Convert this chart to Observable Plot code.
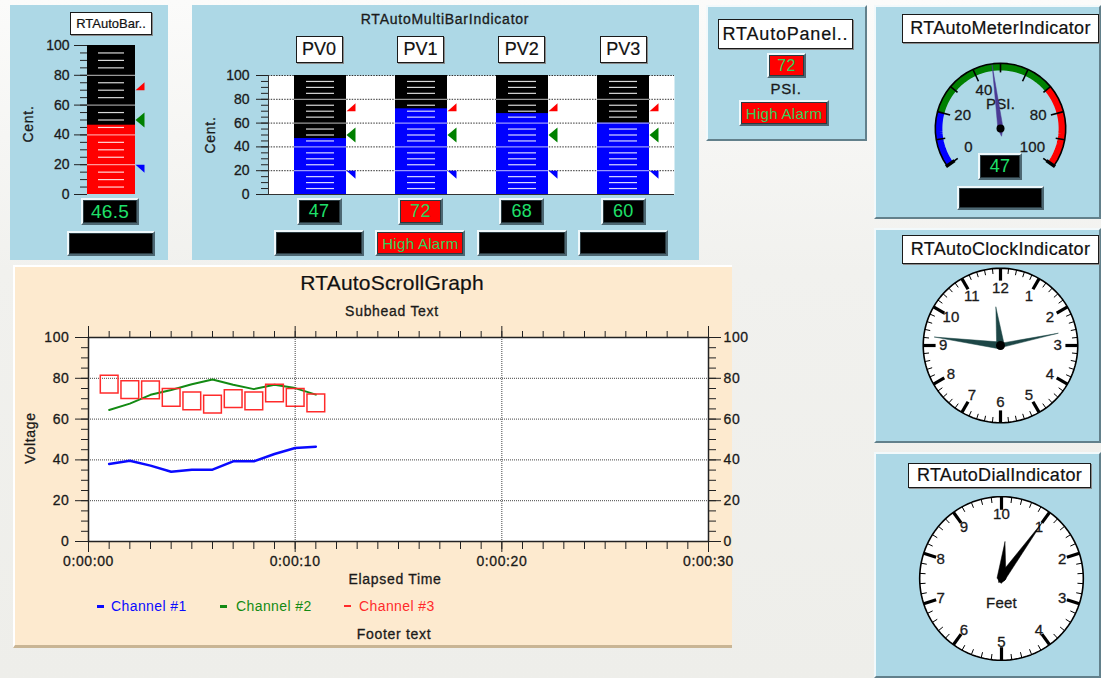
<!DOCTYPE html>
<html><head><meta charset="utf-8">
<script src="https://cdn.jsdelivr.net/npm/d3@7"></script>
<script src="https://cdn.jsdelivr.net/npm/@observablehq/plot@0.6"></script>
<style>
html,body{margin:0;padding:0;}
body{width:1101px;height:678px;position:relative;overflow:hidden;background:linear-gradient(180deg,#fbfbfa 0%,#f1f1ee 40%,#eeeeea 100%);font-family:"Liberation Sans",Arial,Helvetica,sans-serif;}
.panel{position:absolute;background:#add8e6;box-sizing:border-box;}
.bevel{border:2px solid;border-color:#f2f9fb #62808b #62808b #f2f9fb;}
.tbox{position:absolute;box-sizing:border-box;background:#fff;border:1.5px solid #1a1a1a;box-shadow:1px 1px 0 #8a8a8a;display:flex;align-items:center;justify-content:center;color:#111;white-space:nowrap;letter-spacing:0.3px;-webkit-text-stroke:0.2px #111;}
.vbox{position:absolute;box-sizing:border-box;background:#000;border:2px solid;border-color:#eef8fb #4d6772 #4d6772 #eef8fb;box-shadow:inset 0 0 0 1px #2a3a40;display:flex;align-items:center;justify-content:center;color:#1fe06a;white-space:nowrap;letter-spacing:0.3px;}
.txt{position:absolute;transform:translate(-50%,-50%);white-space:nowrap;color:#1a1a1a;letter-spacing:0.7px;-webkit-text-stroke:0.3px #1a1a1a;}
.ltxt{position:absolute;transform:translate(0,-50%);white-space:nowrap;letter-spacing:0.4px;}
svg text{stroke:#1a1a1a;stroke-width:0.3px;}
</style></head><body>
<script>
// ---------------- data ----------------
const singleBarName = ["RTAutoBar"];
const singleBarValue = [46.5];
const singleBarReadout = ["46.5"];
const multiBarNames = ["PV0", "PV1", "PV2", "PV3"];
const multiBarValues = [47, 72, 68, 60];
const multiBarReadouts = ["47", "72", "68", "60"];
const multiBarAlarms = ["", "High Alarm", "", ""];
const alarmHighLevel = [70];
const setpointLevel = [50];
const alarmLowLevel = [20];
const barTicks = [0, 20, 40, 60, 80, 100];
const panelReadout = ["72"];
const panelAlarm = ["High Alarm"];
const meterValue = [47];
const meterReadout = ["47"];
const meterTickLabels = [0, 20, 40, 80, 100];
const meterZoneColors = ["blue", "green", "red"];
const meterZoneStarts = [0, 20, 70];
const meterZoneEnds = [20, 70, 100];
const clockTime = [11, 46, 13];
const clockNumbers = [12, 1, 2, 3, 4, 5, 6, 7, 8, 9, 10, 11];
const dialNumbers = [10, 1, 2, 3, 4, 5, 6, 7, 8, 9];
const dialLongHand = [1.0];
const dialShortHand = [0.15];
const scrollTimes = [1, 2, 3, 4, 5, 6, 7, 8, 9, 10, 11];
const channel1 = [38.0, 39.6, 37.2, 34.2, 35.2, 35.2, 39.3, 39.3, 42.9, 45.8, 46.5];
const channel2 = [64.5, 67.6, 71.9, 74.3, 77.1, 79.4, 76.8, 74.7, 76.8, 75.2, 72.0];
const channel3 = [77.1, 74.4, 74.3, 70.7, 68.9, 67.3, 70.0, 68.9, 72.8, 70.7, 68.0];
const channelNames = ["Channel #1", "Channel #2", "Channel #3"];
const channelColors = ["#0a0aff", "#138a13", "#ff2b2b"];
const scrollTickValues = [0, 10, 20, 30];
const scrollTickLabels = ["0:00:00", "0:00:10", "0:00:20", "0:00:30"];
const voltTicks = [0, 20, 40, 60, 80, 100];

// ---------------- helpers ----------------
const FONT = '"Liberation Sans", Arial, Helvetica, sans-serif';
const baseStyle = {background: "transparent", overflow: "visible", fontFamily: FONT, fontSize: "14px", color: "#1a1a1a", letterSpacing: "0.5px"};
const B = document.body;
function box(cls, x, y, w, h, text, style = {}) {
  const d = document.createElement("div");
  d.className = cls;
  Object.assign(d.style, {left: x + "px", top: y + "px", width: w + "px", height: h + "px"}, style);
  if (text != null) d.textContent = text;
  B.appendChild(d); return d;
}
function txt(s, cx, cy, style = {}, cls = "txt") {
  const d = document.createElement("div");
  d.className = cls;
  Object.assign(d.style, {left: cx + "px", top: cy + "px"}, style);
  d.textContent = s; B.appendChild(d); return d;
}
function put(svg, x, y) {
  svg.style.position = "absolute";
  svg.style.left = x + "px";
  svg.style.top = y + "px";
  B.appendChild(svg);
}
const rad = d => d * Math.PI / 180;

// marker symbols (pixel geometry)
const symHigh = {draw(c) { c.moveTo(0, 0); c.lineTo(9, 0); c.lineTo(9, -8); c.closePath(); }};
const symSet = {draw(c) { c.moveTo(0, 0); c.lineTo(9, -7.5); c.lineTo(9, 7.5); c.closePath(); }};
const symLow = {draw(c) { c.moveTo(0, 0); c.lineTo(9, 0); c.lineTo(9, 8); c.closePath(); }};

function barIndicator(o) {
  const rows = o.names.map((name, i) => ({name, value: o.values[i]}));
  const seps = [], minors = [];
  for (const name of o.names) for (let l = 5; l < 100; l += 5) (l % 20 === 0 ? seps : minors).push({name, level: l});
  const marks = [];
  if (o.white) marks.push(
    Plot.frame({fill: "white", stroke: null}),
    Plot.gridY(barTicks.slice(1), {stroke: "#333", strokeOpacity: 1, strokeDasharray: "1.5,1.2"}),
    Plot.ruleY([0], {stroke: "#333", strokeWidth: 1.2})
  );
  marks.push(
    Plot.barY(rows, {x: "name", y1: 0, y2: 100, fill: "black"}),
    Plot.barY(rows, {x: "name", y1: 0, y2: "value", fill: o.fill}),
    Plot.tickY(seps, {x: "name", y: "level", stroke: "white", strokeOpacity: 0.6, strokeWidth: 1.2}),
    Plot.tickY(minors, {x: "name", y: "level", stroke: "white", strokeOpacity: 0.85, strokeWidth: 1.2, insetLeft: o.inset, insetRight: o.inset}),
    Plot.dot(o.names, {x: d => d, y: () => alarmHighLevel[0], symbol: symHigh, fill: "red", stroke: "none", dx: o.halfBand}),
    Plot.dot(o.names, {x: d => d, y: () => setpointLevel[0], symbol: symSet, fill: "green", stroke: "none", dx: o.halfBand}),
    Plot.dot(o.names, {x: d => d, y: () => alarmLowLevel[0], symbol: symLow, fill: "blue", stroke: "none", dx: o.halfBand}),
    Plot.axisY({anchor: "left", ticks: d3.range(0, 101, 5), tickSize: 7, tickFormat: () => "", label: null, stroke: "#222"}),
    Plot.axisY({anchor: "left", ticks: barTicks, tickSize: o.majorTick, tickPadding: o.pad, label: null, fontSize: 14, stroke: "#222", fill: "#1a1a1a"})
  );
  return Plot.plot({
    width: o.width, height: o.height, marginLeft: o.ml, marginRight: o.mr, marginTop: o.mt, marginBottom: o.mb,
    x: {domain: o.names, paddingInner: o.pi, paddingOuter: o.po, axis: null},
    y: {domain: [0, 100]},
    style: {...baseStyle, letterSpacing: "0px"}, marks
  });
}

// ---------------- panel 1: single bar ----------------
box("panel", 10, 5, 158, 255);
put(barIndicator({names: singleBarName, values: singleBarValue, fill: "red", width: 158, height: 200,
  ml: 77, mr: 33, mt: 15, mb: 36, pi: 0, po: 0, halfBand: 24, inset: 11, majorTick: 13, pad: 5, white: false}), 10, 30);
box("tbox", 70, 12, 82, 23, "RTAutoBar..", {fontSize: "13px", letterSpacing: "0px"});
txt("Cent.", 28, 124, {transform: "translate(-50%,-50%) rotate(-90deg)", fontSize: "14px"});
box("vbox", 81, 198, 58, 27, singleBarReadout[0], {fontSize: "19px"});
box("vbox", 67, 231, 88, 25, "");

// ---------------- panel 2: multi bar ----------------
box("panel", 192, 5, 507, 255);
txt("RTAutoMultiBarIndicator", 445, 19, {fontSize: "14px", letterSpacing: "0.75px"});
put(barIndicator({names: multiBarNames, values: multiBarValues, fill: "blue", width: 507, height: 150,
  ml: 76, mr: 25, mt: 15, mb: 16, pi: 0.489, po: 0.246, halfBand: 26, inset: 12, majorTick: 12, pad: 7, white: true}), 192, 60);
box("", 267.5, 75, 1.3, 119, null, {position: "absolute", background: "#333"});
txt("Cent.", 210, 135, {transform: "translate(-50%,-50%) rotate(-90deg)", fontSize: "14px"});
const barCenters = multiBarNames.map((_, i) => 293 + 26 + i * 101.42);
multiBarNames.forEach((n, i) => {
  const c = barCenters[i];
  box("tbox", c - 23.5, 36, 47, 27, n, {fontSize: "18px", letterSpacing: "0px"});
  const alarm = multiBarAlarms[i] !== "";
  box("vbox", c - 22.5, 198, 45, 27, multiBarReadouts[i], {fontSize: "18px", background: alarm ? "#ff0000" : "#000", color: alarm ? "#2fd05a" : "#1fe06a"});
  box("vbox", c - 45, 230, 90, 26, multiBarAlarms[i], {fontSize: "15px", background: alarm ? "#ff0000" : "#000", color: "#2fd05a"});
});

// ---------------- panel 3: panel ----------------
box("panel bevel", 706, 5, 161, 136);
box("tbox", 718, 19, 135, 30, "RTAutoPanel..", {fontSize: "18px", letterSpacing: "0.8px"});
box("vbox", 767, 53, 39, 25, panelReadout[0], {fontSize: "16px", background: "#ff0000", color: "#2fd05a"});
txt("PSI.", 786, 88, {fontSize: "15px"});
box("vbox", 739, 100, 90, 26, panelAlarm[0], {fontSize: "15px", background: "#ff0000", color: "#2fd05a"});

// ---------------- panel 4: meter ----------------
box("panel bevel", 874, 5, 227, 214);
const meterAngle = v => 215 - 2.5 * v;
const mpt = (r, v) => ({x: r * Math.cos(rad(meterAngle(v))), y: r * Math.sin(rad(meterAngle(v)))});
const arcPts = (r, v0, v1) => d3.range(0, 41).map(i => mpt(r, v0 + (v1 - v0) * i / 40));
function handPoly(len, half, tail, mathDeg) {
  const a = rad(mathDeg), ux = Math.cos(a), uy = Math.sin(a), px = -uy, py = ux;
  const p = [
    {x: len * ux, y: len * uy},
    {x: half * px, y: half * py},
    {x: -tail * ux, y: -tail * uy},
    {x: -half * px, y: -half * py}
  ];
  p.push(p[0]);
  return p;
}
const gaugeOpts = (S, D, marks) => Plot.plot({
  width: S, height: S, margin: 0,
  x: {domain: [-D, D], axis: null}, y: {domain: [-D, D], axis: null},
  style: {...baseStyle, fontSize: "15px", letterSpacing: "0.2px"}, marks
});
const meterMarks = [];
meterZoneColors.forEach((c, i) => meterMarks.push(
  Plot.line(arcPts(0.945, meterZoneStarts[i], meterZoneEnds[i]), {x: "x", y: "y", stroke: c, strokeWidth: 7, strokeLinecap: "butt"})));
meterMarks.push(
  Plot.line(arcPts(1.0, 0, 100), {x: "x", y: "y", stroke: "black", strokeWidth: 1.6}),
  Plot.link(d3.range(0, 101, 10), {x1: v => mpt(v % 20 === 0 ? 0.8 : 0.86, v).x, y1: v => mpt(v % 20 === 0 ? 0.8 : 0.86, v).y,
    x2: v => mpt(1, v).x, y2: v => mpt(1, v).y, stroke: "black", strokeWidth: 1.6}),
  Plot.link([0, 100], {x1: v => mpt(0.86, v).x, y1: v => mpt(0.86, v).y, x2: v => mpt(1.02, v).x, y2: v => mpt(1.02, v).y, stroke: "black", strokeWidth: 3.5}),
  Plot.text(meterTickLabels, {x: v => mpt(0.6, v).x, y: v => mpt(0.6, v).y + 0.05, text: d => String(d), fill: "#1a1a1a", fontSize: 15}),
  Plot.text(["PSI."], {x: () => 0, y: () => 0.38, text: d => d, fill: "#1a1a1a", fontSize: 15}),
  Plot.line(handPoly(0.98, 0.04, 0.12, meterAngle(meterValue[0])), {x: "x", y: "y", fill: "#4a3a94", stroke: "#4a3a94", strokeWidth: 0.5}),
  Plot.dot([0], {x: () => 0, y: () => 0, r: 4, fill: "black", stroke: "none"})
);
put(gaugeOpts(150, 1.15, meterMarks), 925, 53);
box("tbox", 902, 14, 197, 29, "RTAutoMeterIndicator", {fontSize: "18px"});
box("vbox", 978, 153, 44, 27, meterReadout[0], {fontSize: "18px"});
box("vbox", 957, 186, 87, 24, "");

// ---------------- clock & dial ----------------
const cpt = (r, cwDeg) => ({x: r * Math.sin(rad(cwDeg)), y: r * Math.cos(rad(cwDeg))});
const circlePts = d3.range(0, 361, 3).map(a => cpt(1, a));
function faceMarks(nTicks, majorEvery, numbers, numR) {
  const step = 360 / nTicks;
  const minor = d3.range(nTicks).filter(i => i % majorEvery !== 0);
  const major = d3.range(0, nTicks, majorEvery);
  return [
    Plot.line(circlePts, {x: "x", y: "y", fill: "white", stroke: "black", strokeWidth: 1.6}),
    Plot.link(minor, {x1: i => cpt(0.93, i * step).x, y1: i => cpt(0.93, i * step).y, x2: i => cpt(1, i * step).x, y2: i => cpt(1, i * step).y, stroke: "black", strokeWidth: 1}),
    Plot.link(major, {x1: i => cpt(0.84, i * step).x, y1: i => cpt(0.84, i * step).y, x2: i => cpt(1, i * step).x, y2: i => cpt(1, i * step).y, stroke: "black", strokeWidth: 3.2}),
    Plot.text(numbers, {x: (n, i) => cpt(numR, i * 360 / numbers.length).x, y: (n, i) => cpt(numR, i * 360 / numbers.length).y, text: d => String(d), fill: "#1a1a1a", fontSize: 15})
  ];
}
box("panel bevel", 874, 228, 227, 215);
const hourDeg = (clockTime[0] % 12 + clockTime[1] / 60 + clockTime[2] / 3600) * 30;
const minDeg = (clockTime[1] + clockTime[2] / 60) * 6;
const secDeg = clockTime[2] * 6;
const handCol = "#1d4646";
put(gaugeOpts(170, 1.1, [
  ...faceMarks(60, 5, clockNumbers, 0.74),
  Plot.line(handPoly(0.5, 0.05, 0.05, 90 - hourDeg), {x: "x", y: "y", fill: handCol, stroke: handCol, strokeWidth: 0.5}),
  Plot.line(handPoly(0.86, 0.045, 0.05, 90 - minDeg), {x: "x", y: "y", fill: handCol, stroke: handCol, strokeWidth: 0.5}),
  Plot.line(handPoly(0.76, 0.028, 0.05, 90 - secDeg), {x: "x", y: "y", fill: handCol, stroke: handCol, strokeWidth: 0.5}),
  Plot.dot([0], {x: () => 0, y: () => 0, r: 4.5, fill: "black", stroke: "none"})
]), 915, 260);
box("tbox", 902, 235, 197, 29, "RTAutoClockIndicator", {fontSize: "18px"});

box("panel bevel", 874, 452, 227, 226);
put(gaugeOpts(180, 1.1, [
  ...faceMarks(50, 5, dialNumbers, 0.78),
  Plot.text(["Feet"], {x: () => 0, y: () => -0.3, text: d => d, fill: "#1a1a1a", fontSize: 15}),
  Plot.line(handPoly(0.45, 0.055, 0.06, 90 - dialShortHand[0] * 36), {x: "x", y: "y", fill: "black", stroke: "black", strokeWidth: 0.5}),
  Plot.line(handPoly(0.86, 0.045, 0.06, 90 - dialLongHand[0] * 36), {x: "x", y: "y", fill: "black", stroke: "black", strokeWidth: 0.5}),
  Plot.dot([0], {x: () => 0, y: () => 0, r: 3, fill: "black", stroke: "none"})
]), 911, 488);
box("tbox", 908, 463, 183, 25, "RTAutoDialIndicator", {fontSize: "18px"});

// ---------------- scroll graph ----------------
box("", 13, 265, 719, 383, null, {position: "absolute", boxSizing: "border-box", background: "#fdeacf",
  borderTop: "2px solid #fff", borderLeft: "2px solid #fff", borderBottom: "3px solid #c9b594"});
txt("RTAutoScrollGraph", 392, 283, {fontSize: "21px", color: "#111", letterSpacing: "0.2px", webkitTextStroke: "0.2px #111"});
txt("Subhead Text", 392, 311, {fontSize: "14px"});
txt("Voltage", 30, 438, {transform: "translate(-50%,-50%) rotate(-90deg)", fontSize: "14px"});
const scrollRows = scrollTimes.map((t, i) => ({t, c1: channel1[i], c2: channel2[i], c3: channel3[i]}));
const fmtTime = d => scrollTickLabels[scrollTickValues.indexOf(d)];
put(Plot.plot({
  width: 719, height: 270, marginLeft: 75, marginRight: 24, marginTop: 17, marginBottom: 49,
  x: {domain: [0, 30]}, y: {domain: [0, 100]},
  style: {...baseStyle, letterSpacing: "0.6px"},
  marks: [
    Plot.frame({fill: "white", stroke: null}),
    Plot.gridY(voltTicks.slice(1, 5), {stroke: "#444", strokeOpacity: 1, strokeDasharray: "1,1"}),
    Plot.gridX(scrollTickValues.slice(1, 3), {stroke: "#444", strokeOpacity: 1, strokeDasharray: "1,1"}),
    Plot.line(scrollRows, {x: "t", y: "c1", stroke: channelColors[0], strokeWidth: 2.5}),
    Plot.line(scrollRows, {x: "t", y: "c2", stroke: channelColors[1], strokeWidth: 2}),
    Plot.dot(scrollRows, {x: "t", y: "c3", symbol: "square", r: 10, stroke: channelColors[2], strokeWidth: 1.5, fill: "none"}),
    Plot.frame({stroke: "#222", strokeWidth: 1.5}),
    Plot.axisY({anchor: "left", ticks: d3.range(0, 101, 5), tickSize: 7, tickFormat: () => "", label: null, stroke: "#222"}),
    Plot.axisY({anchor: "left", ticks: voltTicks, tickSize: 13, tickPadding: 6, label: null, fontSize: 14, stroke: "#222", fill: "#1a1a1a"}),
    Plot.axisY({anchor: "right", ticks: d3.range(0, 101, 5), tickSize: 7, tickFormat: () => "", label: null, stroke: "#222"}),
    Plot.axisY({anchor: "right", ticks: voltTicks, tickSize: 12, tickPadding: 3, label: null, fontSize: 14, stroke: "#222", fill: "#1a1a1a"}),
    Plot.axisX({anchor: "top", ticks: d3.range(0, 31, 1), tickSize: 7, tickFormat: () => "", label: null, stroke: "#222"}),
    Plot.axisX({anchor: "top", ticks: scrollTickValues, tickSize: 12, tickFormat: () => "", label: null, stroke: "#222"}),
    Plot.axisX({anchor: "bottom", ticks: d3.range(0, 31, 1), tickSize: 8, tickFormat: () => "", label: null, stroke: "#222"}),
    Plot.axisX({anchor: "bottom", ticks: scrollTickValues, tickSize: 11, tickPadding: 4, tickFormat: fmtTime, label: null, fontSize: 14, stroke: "#222", fill: "#1a1a1a"})
  ]
}), 13, 320);
txt("Elapsed Time", 395, 579, {fontSize: "14px"});
const legendDash = [97, 220, 344], legendText = [111, 236, 359];
channelNames.forEach((n, i) => {
  box("", legendDash[i], 605, 7, i === 2 ? 1.5 : 2.5, null, {position: "absolute", background: channelColors[i]});
  txt(n, legendText[i], 606, {fontSize: "14px", color: channelColors[i]}, "ltxt");
});
txt("Footer text", 394, 634, {fontSize: "14px"});
</script>
</body></html>
